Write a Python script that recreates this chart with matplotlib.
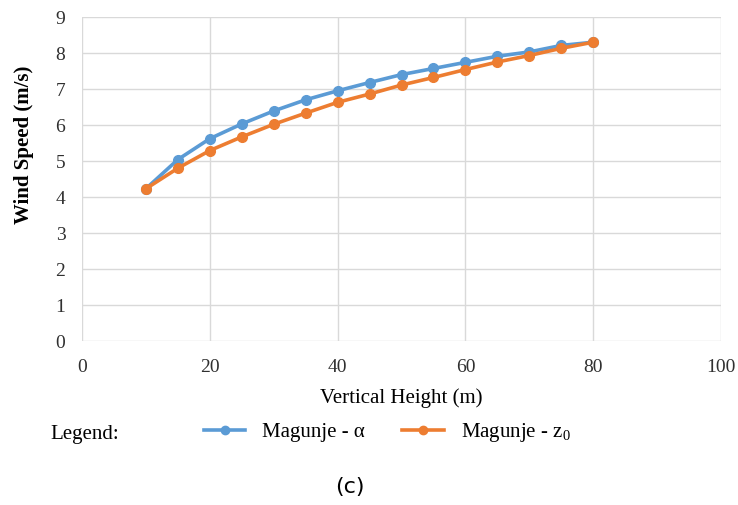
import matplotlib
matplotlib.use("Agg")
import matplotlib.pyplot as plt

heights = [10, 15, 20, 25, 30, 35, 40, 45, 50, 55, 60, 65, 70, 75, 80]
speed_alpha = [4.23, 5.04, 5.62, 6.03, 6.39, 6.70, 6.95, 7.18, 7.40, 7.57, 7.74, 7.91, 8.03, 8.21, 8.30]
speed_z0 = [4.23, 4.80, 5.29, 5.67, 6.02, 6.33, 6.63, 6.86, 7.11, 7.32, 7.54, 7.75, 7.93, 8.13, 8.30]
x_ticks = [0, 20, 40, 60, 80, 100]
y_ticks = list(range(0, 10))

plt.rcParams["mathtext.fontset"] = "custom"
plt.rcParams["mathtext.rm"] = "Liberation Serif"
plt.rcParams["mathtext.it"] = "Liberation Serif:italic"

serif = ["Liberation Serif", "DejaVu Serif"]
blue = "#5B9BD5"
orange = "#ED7D31"

fig = plt.figure(figsize=(7.38, 5.05), dpi=100)
ax = fig.add_axes([82/738, 1 - 341/505, (721-82)/738, (341-17)/505])

l1, = ax.plot(heights, speed_alpha, color=blue, lw=2.6, marker="o", ms=7, label="Magunje - α", zorder=3)
l2, = ax.plot(heights, speed_z0, color=orange, lw=2.6, marker="o", ms=7, label="Magunje - z$_\\mathrm{0}$", zorder=4)

ax.set_xlim(0, 100)
ax.set_ylim(0, 9)
ax.set_xticks(x_ticks)
ax.set_yticks(y_ticks)
ax.grid(True, color="#d9d9d9", lw=1)
ax.set_axisbelow(True)
for s in ax.spines.values():
    s.set_visible(False)
ax.tick_params(length=0, labelsize=14, colors="#303030")
ax.tick_params(axis="y", pad=12)
ax.tick_params(axis="x", pad=13)
for lab in ax.get_xticklabels() + ax.get_yticklabels():
    lab.set_fontfamily(serif)

ax.set_xlabel("Vertical Height (m)", fontsize=15, family=serif, labelpad=9)
fig.text(24/738, 1 - 145/505, "Wind Speed (m/s)", fontsize=15, family=serif, fontweight="bold",
         rotation=90, ha="center", va="center")

fig.text(50/738, 1 - 435/505, "Legend:", fontsize=15, family=serif, va="center", ha="left")
leg = fig.legend(handles=[l1, l2], loc="center left", bbox_to_anchor=(185/738, 1 - 433/505),
                 ncol=2, frameon=False, handlelength=2.0, columnspacing=1.8,
                 prop={"family": serif, "size": 15}, handletextpad=0.8)
for h in leg.legend_handles:
    h.set_markersize(6)

fig.text(350/738, 1 - 487/505, "(c)", fontsize=16, family="DejaVu Sans", va="center", ha="center")

fig.savefig("out.png", dpi=100)
